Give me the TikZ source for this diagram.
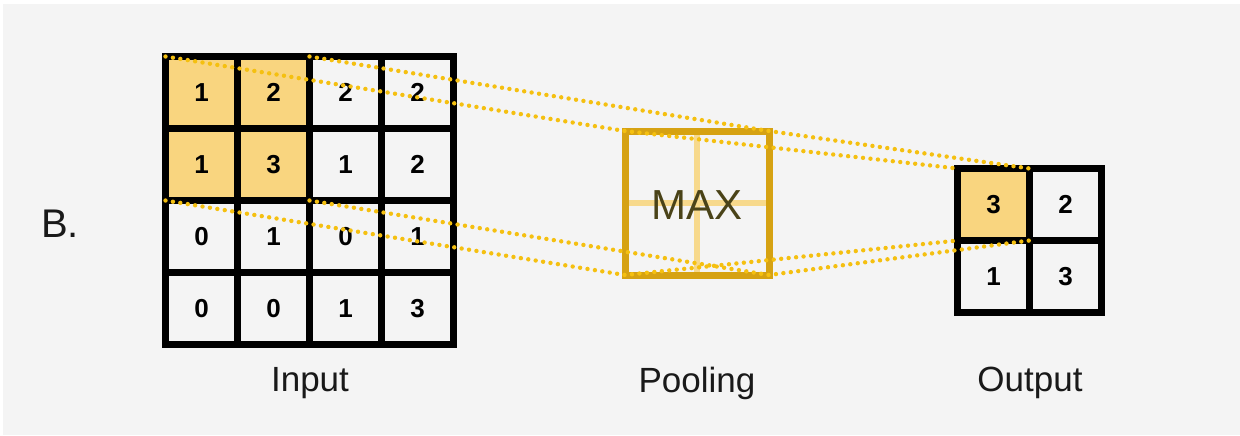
\documentclass[tikz,border=0pt]{standalone}
\usepackage{fontspec}
\setmainfont{Liberation Sans}
\usetikzlibrary{positioning}
\definecolor{PoolBg}{HTML}{F4F4F4}
\definecolor{PoolFill}{HTML}{F9D57F}
\definecolor{PoolGold}{HTML}{D6A212}
\definecolor{PoolLight}{HTML}{F7D98C}
\definecolor{PoolDot}{HTML}{F5C010}
\definecolor{PoolText}{HTML}{4A4318}

\begin{document}
\begin{tikzpicture}[x=0.5pt,y=-0.5pt, node distance=0pt, every node/.style={font=\fontsize{13}{15}\selectfont\bfseries}, cell/.style={draw,line width=3.5pt,minimum size=36pt,inner sep=0pt,outer sep=0pt,fill=PoolBg}, hot/.style={cell,fill=PoolFill}, lbl/.style={font=\fontsize{17.5}{21}\selectfont,text=black!90}, proj/.style={PoolDot,line width=2.2pt,line cap=round,dash pattern=on 0pt off 3.75pt}]
\fill[white] (0,0) rectangle (1240,435);
\fill[PoolBg] (3,4) rectangle (1240,435);
\useasboundingbox (0,0) rectangle (1240,435);
% input 4x4
\node[hot] (i11) at (201.5,92.5) {1};
\node[hot,right=of i11] (i12) {2};
\node[cell,right=of i12] (i13) {2};
\node[cell,right=of i13] (i14) {2};
\node[hot,below=of i11] (i21) {1};
\node[hot,right=of i21] (i22) {3};
\node[cell,right=of i22] (i23) {1};
\node[cell,right=of i23] (i24) {2};
\node[cell,below=of i21] (i31) {0};
\node[cell,right=of i31] (i32) {1};
\node[cell,right=of i32] (i33) {0};
\node[cell,right=of i33] (i34) {1};
\node[cell,below=of i31] (i41) {0};
\node[cell,right=of i41] (i42) {0};
\node[cell,right=of i42] (i43) {1};
\node[cell,right=of i43] (i44) {3};
% pooling window
\node[draw=PoolGold,line width=3.5pt,minimum size=72pt,inner sep=0pt,outer sep=0pt,path picture={\draw[PoolLight,line width=3pt] (path picture bounding box.north) -- (path picture bounding box.south) (path picture bounding box.west) -- (path picture bounding box.east);}] (pool) at (697,203) {};
\node[font=\fontsize{21}{25}\selectfont,text=PoolText] (max) at (697,205) {MAX};
% output 2x2
\node[hot] (o11) at (993.5,204.5) {3};
\node[cell,right=of o11] (o12) {2};
\node[cell,below=of o11] (o21) {1};
\node[cell,right=of o21] (o22) {3};
% projection lines
\draw[proj] (i11.north west) -- (pool.north west) -- (o11.north west);
\draw[proj] (i12.north east) -- (pool.north east) -- (o11.north east);
\draw[proj] (i21.south west) -- (pool.south west) -- (o11.south west);
\draw[proj] (i22.south east) -- (pool.south east) -- (o11.south east);
% captions
\node[lbl] (inlbl) at (310,383) {Input};
\node[lbl] (poollbl) at (697,383) {Pooling};
\node[lbl] (outlbl) at (1030,383) {Output};
\node[font=\fontsize{20}{24}\selectfont,text=black!90] (tag) at (60,224) {B.};
\end{tikzpicture}
\end{document}
